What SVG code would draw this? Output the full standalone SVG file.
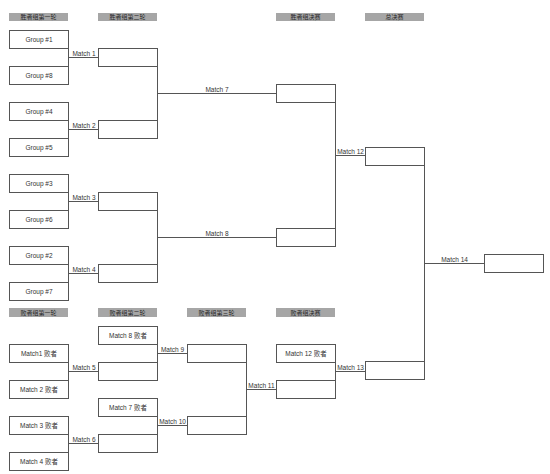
<svg xmlns="http://www.w3.org/2000/svg" width="550" height="474" viewBox="0 0 550 474">
<style>
.hd{fill:#a6a6a6}
.ht{font-family:"Noto Sans CJK SC","Liberation Sans",sans-serif;font-size:6px;fill:#262626;text-anchor:middle}
.bx{fill:#fff;stroke:#555;stroke-width:1}
.bt{font-family:"Liberation Sans","Noto Sans CJK SC",sans-serif;font-size:6.5px;fill:#333;text-anchor:middle}
.ln{fill:none;stroke:#555;stroke-width:1}
.lb{font-family:"Liberation Sans",sans-serif;font-size:6.5px;fill:#333;text-anchor:middle}
</style>
<rect width="550" height="474" fill="#fff"/>
<g id="headers">
<rect class="hd" x="9" y="13" width="59" height="8"/><text class="ht" x="38.5" y="19.3">胜者组第一轮</text>
<rect class="hd" x="98" y="13" width="59" height="8"/><text class="ht" x="127.5" y="19.3">胜者组第二轮</text>
<rect class="hd" x="276" y="13" width="59" height="8"/><text class="ht" x="305.5" y="19.3">胜者组决赛</text>
<rect class="hd" x="365" y="13" width="59" height="8"/><text class="ht" x="394.5" y="19.3">总决赛</text>
<rect class="hd" x="9" y="308" width="59" height="9"/><text class="ht" x="38.5" y="314.8">败者组第一轮</text>
<rect class="hd" x="98" y="308" width="59" height="9"/><text class="ht" x="127.5" y="314.8">败者组第二轮</text>
<rect class="hd" x="187" y="308" width="59" height="9"/><text class="ht" x="216.5" y="314.8">败者组第三轮</text>
<rect class="hd" x="276" y="308" width="59" height="9"/><text class="ht" x="305.5" y="314.8">败者组决赛</text>
</g>
<g id="connectors">
<path class="ln" d="M68.5 48.5V66.5M68.5 120.5V138.5M68.5 192.5V210.5M68.5 264.5V282.5
M68.5 57.5H98.5M68.5 129.5H98.5M68.5 201.5H98.5M68.5 273.5H98.5
M157.5 66.5V120.5M157.5 210.5V264.5M157.5 93.5H276.5M157.5 237.5H276.5
M335.5 102.5V228.5M335.5 155.5H365.5
M424.5 165.5V361.5M424.5 263.5H484.5
M68.5 362.5V380.5M68.5 434.5V452.5M68.5 371.5H98.5M68.5 443.5H98.5
M157.5 344.5V362.5M157.5 416.5V434.5M157.5 353.5H187.5M157.5 425.5H187.5
M246.5 362.5V416.5M246.5 389.5H276.5
M335.5 362.5V380.5M335.5 371.5H365.5"/>
<text class="lb" x="84" y="55.5">Match 1</text>
<text class="lb" x="84" y="127.5">Match 2</text>
<text class="lb" x="84" y="199.5">Match 3</text>
<text class="lb" x="84" y="271.5">Match 4</text>
<text class="lb" x="217" y="91.5">Match 7</text>
<text class="lb" x="217" y="235.5">Match 8</text>
<text class="lb" x="350.5" y="153.5">Match 12</text>
<text class="lb" x="454.5" y="261.5">Match 14</text>
<text class="lb" x="84" y="369.5">Match 5</text>
<text class="lb" x="84" y="441.5">Match 6</text>
<text class="lb" x="172.5" y="351.5">Match 9</text>
<text class="lb" x="172.5" y="423.5">Match 10</text>
<text class="lb" x="261.5" y="387.5">Match 11</text>
<text class="lb" x="350.5" y="369.5">Match 13</text>
</g>
<g id="w1-1"><rect class="bx" x="9.5" y="30.5" width="59" height="18"/><text class="bt" x="39" y="41.5">Group #1</text></g>
<g id="w1-2"><rect class="bx" x="9.5" y="66.5" width="59" height="18"/><text class="bt" x="39" y="77.5">Group #8</text></g>
<g id="w1-3"><rect class="bx" x="9.5" y="102.5" width="59" height="18"/><text class="bt" x="39" y="113.5">Group #4</text></g>
<g id="w1-4"><rect class="bx" x="9.5" y="138.5" width="59" height="18"/><text class="bt" x="39" y="149.5">Group #5</text></g>
<g id="w1-5"><rect class="bx" x="9.5" y="174.5" width="59" height="18"/><text class="bt" x="39" y="185.5">Group #3</text></g>
<g id="w1-6"><rect class="bx" x="9.5" y="210.5" width="59" height="18"/><text class="bt" x="39" y="221.5">Group #6</text></g>
<g id="w1-7"><rect class="bx" x="9.5" y="246.5" width="59" height="18"/><text class="bt" x="39" y="257.5">Group #2</text></g>
<g id="w1-8"><rect class="bx" x="9.5" y="282.5" width="59" height="18"/><text class="bt" x="39" y="293.5">Group #7</text></g>
<g id="w2-1"><rect class="bx" x="98.5" y="48.5" width="59" height="18"/></g>
<g id="w2-2"><rect class="bx" x="98.5" y="120.5" width="59" height="18"/></g>
<g id="w2-3"><rect class="bx" x="98.5" y="192.5" width="59" height="18"/></g>
<g id="w2-4"><rect class="bx" x="98.5" y="264.5" width="59" height="18"/></g>
<g id="w3-1"><rect class="bx" x="276.5" y="84.5" width="59" height="18"/></g>
<g id="w3-2"><rect class="bx" x="276.5" y="228.5" width="59" height="18"/></g>
<g id="final"><rect class="bx" x="365.5" y="147.5" width="59" height="18"/></g>
<g id="grand-final"><rect class="bx" x="484.5" y="254.5" width="59" height="18"/></g>
<g id="l1-1"><rect class="bx" x="9.5" y="344.5" width="59" height="18"/><text class="bt" x="39" y="355.5">Match1 败者</text></g>
<g id="l1-2"><rect class="bx" x="9.5" y="380.5" width="59" height="18"/><text class="bt" x="39" y="391.5">Match 2 败者</text></g>
<g id="l1-3"><rect class="bx" x="9.5" y="416.5" width="59" height="18"/><text class="bt" x="39" y="427.5">Match 3 败者</text></g>
<g id="l1-4"><rect class="bx" x="9.5" y="452.5" width="59" height="18"/><text class="bt" x="39" y="463.5">Match 4 败者</text></g>
<g id="l2-1"><rect class="bx" x="98.5" y="326.5" width="59" height="18"/><text class="bt" x="128" y="337.5">Match 8 败者</text></g>
<g id="l2-2"><rect class="bx" x="98.5" y="362.5" width="59" height="18"/></g>
<g id="l2-3"><rect class="bx" x="98.5" y="398.5" width="59" height="18"/><text class="bt" x="128" y="409.5">Match 7 败者</text></g>
<g id="l2-4"><rect class="bx" x="98.5" y="434.5" width="59" height="18"/></g>
<g id="l3-1"><rect class="bx" x="187.5" y="344.5" width="59" height="18"/></g>
<g id="l3-2"><rect class="bx" x="187.5" y="416.5" width="59" height="18"/></g>
<g id="l4-1"><rect class="bx" x="276.5" y="344.5" width="59" height="18"/><text class="bt" x="306" y="355.5">Match 12 败者</text></g>
<g id="l4-2"><rect class="bx" x="276.5" y="380.5" width="59" height="18"/></g>
<g id="l5"><rect class="bx" x="365.5" y="361.5" width="59" height="18"/></g>
</svg>
